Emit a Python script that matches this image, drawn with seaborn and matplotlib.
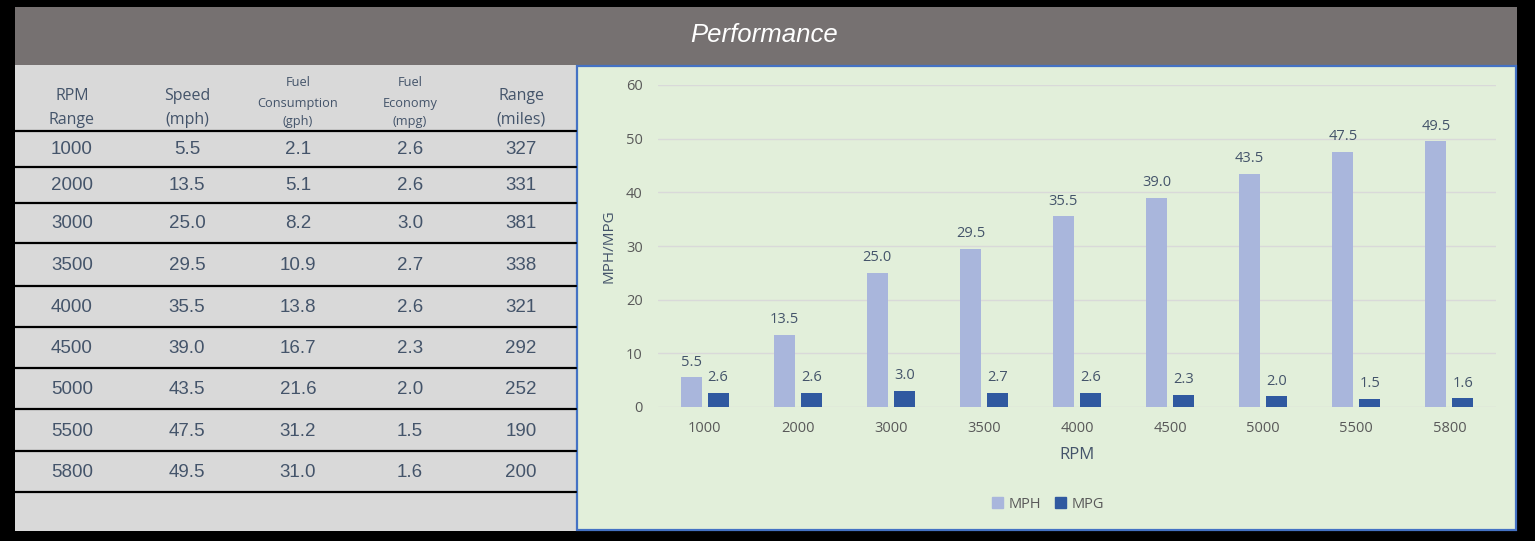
import matplotlib.pyplot as plt
import pandas as pd
import seaborn as sns
from matplotlib.patches import Rectangle
from matplotlib.lines import Line2D

# Data
rpm = ['1000', '2000', '3000', '3500', '4000', '4500', '5000', '5500', '5800']
speed_mph = [5.5, 13.5, 25.0, 29.5, 35.5, 39.0, 43.5, 47.5, 49.5]
fuel_gph = [2.1, 5.1, 8.2, 10.9, 13.8, 16.7, 21.6, 31.2, 31.0]
economy_mpg = [2.6, 2.6, 3.0, 2.7, 2.6, 2.3, 2.0, 1.5, 1.6]
range_miles = [327, 331, 381, 338, 321, 292, 252, 190, 200]

title = 'Performance'
series_names = ['MPH', 'MPG']
series_colors = ['#a9b6dc', '#3059a0']

W, H = 1535, 541

sns.set_theme(style='white')
plt.rcParams['font.family'] = ['Open Sans', 'DejaVu Sans']

fig = plt.figure(figsize=(W / 100, H / 100), dpi=100, facecolor='black')


def px_rect(x, y, w, h, **kw):
    # rectangle in pixel coords, origin top-left
    r = Rectangle((x / W, 1 - (y + h) / H), w / W, h / H,
                  transform=fig.transFigure, **kw)
    fig.add_artist(r)
    return r


def px_text(x, y, s, **kw):
    fig.text(x / W, 1 - y / H, s, ha='center', va='center', **kw)


# background blocks
px_rect(15, 7, 1502, 58, facecolor='#767171', edgecolor='none', zorder=-10)
px_rect(15, 65, 561, 466, facecolor='#d9d9d9', edgecolor='none', zorder=-10)
px_rect(577, 66, 939, 464, facecolor='#e2efda', edgecolor='#4472c4',
        linewidth=1.6, zorder=-9)

px_text(764, 35, title, color='white', fontsize=18.5, style='italic',
        family='Liberation Sans')

# table
cols_x = [72, 187, 298, 410, 521]
text_c = '#44546a'
big_headers = {0: ['RPM', 'Range'], 1: ['Speed', '(mph)'], 4: ['Range', '(miles)']}
for i, lines in big_headers.items():
    for ln, yy in zip(lines, [96, 120]):
        px_text(cols_x[i], yy, ln, color=text_c, fontsize=11.5)
small_headers = {2: ['Fuel', 'Consumption', '(gph)'], 3: ['Fuel', 'Economy', '(mpg)']}
for i, lines in small_headers.items():
    for ln, yy in zip(lines, [83, 103, 122]):
        px_text(cols_x[i], yy, ln, color=text_c, fontsize=9.2)

row_lines = [131, 167, 203, 243, 286, 327, 368, 409, 451, 492]
for yy in row_lines:
    fig.add_artist(Line2D([15 / W, 576 / W], [1 - yy / H, 1 - yy / H],
                          transform=fig.transFigure, color='black', lw=1.6))

for r in range(len(rpm)):
    yc = (row_lines[r] + row_lines[r + 1]) / 2 + 1
    vals = [rpm[r], f'{speed_mph[r]:.1f}', f'{fuel_gph[r]:.1f}',
            f'{economy_mpg[r]:.1f}', str(range_miles[r])]
    for i, v in enumerate(vals):
        px_text(cols_x[i], yc, v, color=text_c, fontsize=13.5,
                family='Liberation Sans')

# chart
df = pd.DataFrame({
    'RPM': rpm * 2,
    'Metric': ['MPH'] * len(rpm) + ['MPG'] * len(rpm),
    'Value': speed_mph + economy_mpg,
})

ax = fig.add_axes([658 / W, 1 - 407 / H, 838 / W, (407 - 85) / H])
ax.set_facecolor('none')
sns.barplot(data=df, x='RPM', y='Value', hue='Metric', order=rpm,
            hue_order=series_names, palette=series_colors, saturation=1,
            width=0.58, gap=0.22, linewidth=0, ax=ax)

for c in ax.containers:
    ax.bar_label(c, fmt='%.1f', padding=5.5, color=text_c, fontsize=10.5)

ax.set_ylim(0, 60)
ax.set_xlim(-0.5, len(rpm) - 0.5)
ax.set_yticks(range(0, 61, 10))
ax.grid(axis='y', color='#d9d9d9', lw=1)
ax.set_axisbelow(True)
for s in ax.spines.values():
    s.set_visible(False)
ax.tick_params(axis='both', length=0, labelsize=10.5, labelcolor='#595959')
ax.tick_params(axis='x', pad=10)
ax.tick_params(axis='y', pad=11)

ax.set_xlabel('RPM', fontsize=12, color=text_c)
ax.set_ylabel('MPH/MPG', fontsize=11, color=text_c)
ax.xaxis.set_label_coords(0.5, -0.125)
ax.yaxis.set_label_coords(-0.049, 0.5)

ax.legend_.remove()
handles = [Rectangle((0, 0), 1, 1, color=c) for c in series_colors]
fig.legend(handles, series_names, loc='center',
           bbox_to_anchor=(1048 / W, 1 - 504 / H), ncol=2, frameon=False,
           handlelength=0.75, handleheight=0.75, handletextpad=0.35,
           columnspacing=1.0, labelcolor='#595959', fontsize=10.5)

fig.savefig('out.png', dpi=100, facecolor='black')
